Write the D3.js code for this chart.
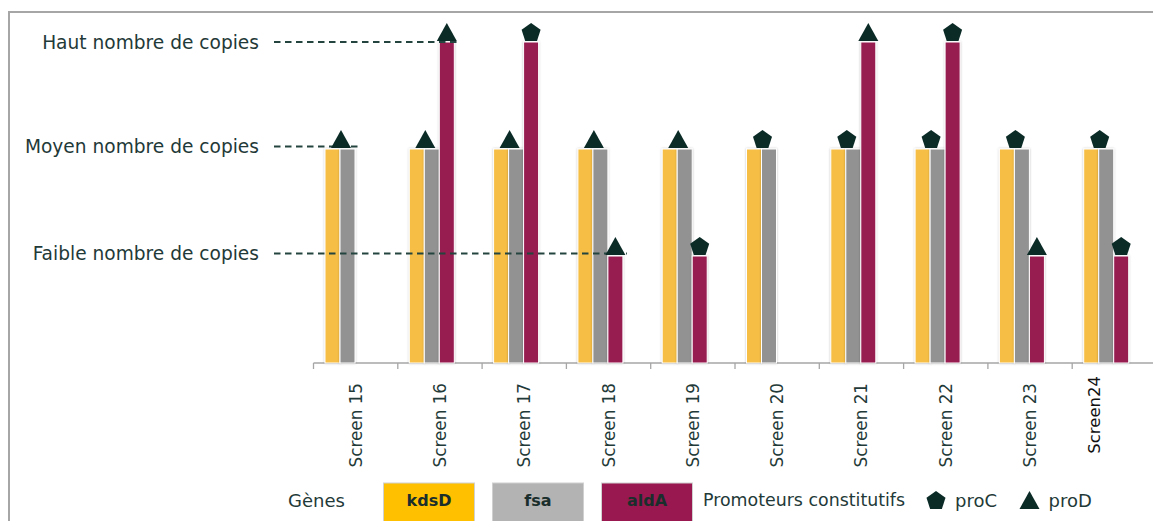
<!DOCTYPE html>
<html>
<head>
<meta charset="utf-8">
<script src="https://cdn.jsdelivr.net/npm/d3@7"></script>
<style>
  html, body { margin: 0; padding: 0; background: #ffffff; }
  svg { display: block; }
  text { font-family: "DejaVu Sans", sans-serif; }
</style>
</head>
<body>
<svg id="chart" width="1153" height="521"></svg>
<script>
// ---- data ----
const categories = ["Screen 15","Screen 16","Screen 17","Screen 18","Screen 19","Screen 20","Screen 21","Screen 22","Screen 23","Screen24"];
const kdsD = [2,2,2,2,2,2,2,2,2,2];
const fsa  = [2,2,2,2,2,2,2,2,2,2];
const aldA = [0,3,3,1,1,0,3,3,1,1];
const pairPromoter = ["proD","proD","proD","proD","proD","proC","proC","proC","proC","proC"];
const aldAPromoter = [null,"proD","proC","proD","proC",null,"proD","proC","proD","proC"];
const levelValues = [1,2,3];
const levelLabels = ["Faible nombre de copies","Moyen nombre de copies","Haut nombre de copies"];
const genes = ["kdsD","fsa","aldA"];
const promoters = ["proC","proD"];
const legendTitle = "Gènes";
const promoterTitle = "Promoteurs constitutifs";

// ---- styles ----
const barColors = {kdsD:"#F6BE45", fsa:"#929292", aldA:"#971A50"};
const legendColors = {kdsD:"#FFC000", fsa:"#B3B3B3", aldA:"#98184F"};
const textColor = "#1f3a38";
const markerColor = "#0b2b27";

const svg = d3.select("#chart");
const defs = svg.append("defs");
const f = defs.append("filter").attr("id","sh").attr("x","-30%").attr("y","-5%").attr("width","160%").attr("height","110%");
f.append("feDropShadow").attr("dx",0).attr("dy",0).attr("stdDeviation",1.2).attr("flood-color","#000").attr("flood-opacity",0.25);

// frame
svg.append("rect").attr("x",9).attr("y",12).attr("width",1200).attr("height",560)
  .attr("fill","none").attr("stroke","#A6A6A6").attr("stroke-width",2);

// scales
const x0 = 313.5, bandW = 84.3;
const x = d3.scaleBand().domain(categories).range([x0, x0 + bandW*categories.length]).padding(0);
const xi = d3.scaleBand().domain(genes.concat(["_"])).range([11.5, 71.5]).padding(0);
const y = d3.scaleLinear().domain([0,3]).range([363, 42]);

// axis
const axisG = svg.append("g").attr("transform", `translate(0,${y(0)})`);
axisG.append("line").attr("x1", x.range()[0]).attr("x2", 1153).attr("y1",0).attr("y2",0)
  .attr("stroke","#A6A6A6").attr("stroke-width",1.3);
axisG.selectAll("line.tick").data(categories).join("line").attr("class","tick")
  .attr("x1", d => x(d)).attr("x2", d => x(d)).attr("y1",0).attr("y2",6)
  .attr("stroke","#A6A6A6").attr("stroke-width",1.3);

// x labels
svg.selectAll("text.xl").data(categories).join("text").attr("class","xl")
  .attr("transform", d => {
    const cx = x(d) + x.bandwidth()/2 + (d === "Screen24" ? -20 : 0);
    const ty = d === "Screen24" ? 376 : 383;
    return `translate(${cx},${ty}) rotate(-90)`;
  })
  .attr("text-anchor","end").attr("dominant-baseline","central")
  .attr("font-size", d => d === "Screen24" ? 16.5 : 16.8)
  .attr("fill", d => d === "Screen24" ? "#111" : textColor)
  .text(d => d);

// bars
const barData = [];
categories.forEach((c,i) => {
  barData.push({c, g:"kdsD", v:kdsD[i]});
  barData.push({c, g:"fsa", v:fsa[i]});
  barData.push({c, g:"aldA", v:aldA[i]});
});
svg.append("g").selectAll("rect").data(barData.filter(d => d.v > 0)).join("rect")
  .attr("x", d => x(d.c) + xi(d.g))
  .attr("y", d => y(d.v))
  .attr("width", xi.bandwidth())
  .attr("height", d => y(0) - y(d.v))
  .attr("fill", d => barColors[d.g])
  .attr("stroke","#ffffff").attr("stroke-width",1)
  .attr("filter","url(#sh)");

// dashed level lines + labels (drawn over the bars)
levelValues.forEach((lv, k) => {
  let endX = null;
  for (let i = 0; i < categories.length && endX === null; i++) {
    if (kdsD[i] === lv) endX = x(categories[i]) + xi("fsa") + xi.bandwidth();
    else if (aldA[i] === lv) endX = x(categories[i]) + xi("aldA") + xi.bandwidth();
  }
  const ly = y(lv) - (lv === 3 ? 0 : 2.5);
  svg.append("line").attr("x1",274).attr("x2",endX + 4).attr("y1",ly).attr("y2",ly)
    .attr("stroke","#24443f").attr("stroke-width",1.8).attr("stroke-dasharray","6.5,4.5");
  svg.append("text").attr("x",259).attr("y",ly).attr("text-anchor","end")
    .attr("dominant-baseline","central").attr("font-size",18.6).attr("fill",textColor)
    .text(levelLabels[k]);
});

// marker shapes
function trianglePath(cx, baseY){
  const w = 20, h = 18;
  return d3.line()([[cx - w/2, baseY],[cx + w/2, baseY],[cx, baseY - h]]) + "Z";
}
function pentagonPath(cx, baseY){
  const r = 10;
  const cy = baseY - r*Math.cos(Math.PI/5);
  const pts = d3.range(5).map(k => {
    const a = -Math.PI/2 + k*2*Math.PI/5;
    return [cx + r*Math.cos(a), cy + r*Math.sin(a)];
  });
  return d3.line()(pts) + "Z";
}
function markerPath(type, cx, baseY){
  return type === "proD" ? trianglePath(cx, baseY) : pentagonPath(cx, baseY);
}

const markers = [];
categories.forEach((c,i) => {
  markers.push({type: pairPromoter[i], cx: x(c) + xi("fsa") + 1, v: Math.max(kdsD[i], fsa[i])});
  if (aldAPromoter[i]) markers.push({type: aldAPromoter[i], cx: x(c) + xi("aldA") + xi.bandwidth()/2, v: aldA[i]});
});
svg.append("g").selectAll("path").data(markers).join("path")
  .attr("d", d => markerPath(d.type, d.cx, y(d.v) - 1))
  .attr("fill", markerColor);

// legend
const legY = 500;
svg.append("text").attr("x",288).attr("y",legY).attr("dominant-baseline","central")
  .attr("font-size",18).attr("fill",textColor).text(legendTitle);
const boxX = d3.scalePoint().domain(genes).range([383.5, 601.5]);
genes.forEach(g => {
  svg.append("rect").attr("x", boxX(g)).attr("y",483).attr("width",91).attr("height",50)
    .attr("fill", legendColors[g]).attr("stroke","#D0D0D0").attr("stroke-width",1);
  svg.append("text").attr("x", boxX(g) + 45.5).attr("y", legY).attr("text-anchor","middle")
    .attr("dominant-baseline","central").attr("font-size",16).attr("font-weight","bold")
    .attr("fill","#1a2e2c").text(g);
});
svg.append("text").attr("x",703).attr("y",legY).attr("dominant-baseline","central")
  .attr("font-size",17.4).attr("fill",textColor).text(promoterTitle);
const promX = d3.scalePoint().domain(promoters).range([936, 1029.5]);
promoters.forEach(p => {
  svg.append("path").attr("d", markerPath(p, promX(p), legY + 9)).attr("fill", markerColor);
  svg.append("text").attr("x", promX(p) + 19).attr("y", legY).attr("dominant-baseline","central")
    .attr("font-size",18).attr("fill",textColor).text(p);
});
</script>
</body>
</html>
